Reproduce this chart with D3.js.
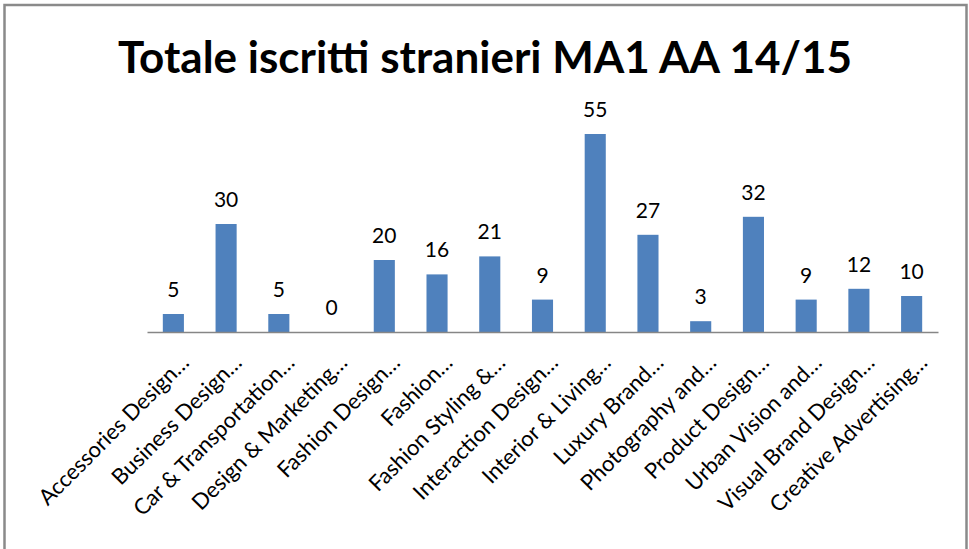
<!DOCTYPE html>
<html>
<head>
<meta charset="utf-8">
<script src="https://cdn.jsdelivr.net/npm/d3@7"></script>
<style>
  body { margin: 0; background: #fff; }
  text { font-family: Lato, "Open Sans", sans-serif; }
</style>
</head>
<body>
<div id="chart"></div>
<script>
var title = "Totale iscritti stranieri MA1 AA 14/15";

var categories = [
    "Accessories Design…", "Business Design…", "Car & Transportation…",
    "Design & Marketing…", "Fashion Design…", "Fashion…",
    "Fashion Styling &…", "Interaction Design…", "Interior & Living…",
    "Luxury Brand…", "Photography and…", "Product Design…",
    "Urban Vision and…", "Visual Brand Design…", "Creative Advertising…"
];

var values = [5, 30, 5, 0, 20, 16, 21, 9, 55, 27, 3, 32, 9, 12, 10];

var W = 969, H = 549;
var margin = { left: 147, right: 31, top: 116, bottom: 217 };

var svg = d3.select('#chart').append('svg')
    .attr('width', W)
    .attr('height', H);

// chart frame
svg.append('rect')
    .attr('x', 4.5).attr('y', 5)
    .attr('width', 962).attr('height', H + 10)
    .attr('fill', '#fff')
    .attr('stroke', '#8a8a8a')
    .attr('stroke-width', 2.5);

svg.append('text')
    .attr('x', 485).attr('y', 73)
    .attr('text-anchor', 'middle')
    .attr('font-weight', 'bold')
    .attr('font-size', 44)
    .text(title);

var x = d3.scaleBand()
    .domain(categories)
    .range([margin.left, W - margin.right])
    .paddingInner(0.6)
    .paddingOuter(0.3);

var y = d3.scaleLinear()
    .domain([0, 60])
    .range([H - margin.bottom, margin.top]);

var g = svg.append('g');

g.selectAll('rect.bar')
    .data(values)
    .enter()
    .append('rect')
    .attr('class', 'bar')
    .attr('x', function (d, i) { return x(categories[i]); })
    .attr('y', function (d) { return y(d); })
    .attr('width', x.bandwidth())
    .attr('height', function (d) { return y(0) - y(d); })
    .attr('fill', '#4f81bd');

g.selectAll('text.val')
    .data(values)
    .enter()
    .append('text')
    .attr('class', 'val')
    .attr('x', function (d, i) { return x(categories[i]) + x.bandwidth() / 2; })
    .attr('y', function (d) { return y(d) - 17; })
    .attr('text-anchor', 'middle')
    .attr('font-size', 21)
    .attr('fill', '#000')
    .text(function (d) { return d; });

// x axis line
var xAxis = d3.axisBottom(x).tickSize(0).tickFormat('');
var axisG = svg.append('g')
    .attr('transform', 'translate(0,' + y(0) + ')')
    .call(xAxis);
axisG.select('.domain').attr('stroke', '#868686').attr('stroke-width', 1.5);

// rotated category labels
svg.append('g').selectAll('text.cat')
    .data(categories)
    .enter()
    .append('text')
    .attr('class', 'cat')
    .attr('transform', function (d) {
        var cx = x(d) + x.bandwidth() / 2 + 17;
        return 'translate(' + cx + ',' + (y(0) + 32) + ') rotate(-45)';
    })
    .attr('text-anchor', 'end')
    .attr('font-size', 22)
    .attr('fill', '#000')
    .text(function (d) { return d; });
</script>
</body>
</html>
